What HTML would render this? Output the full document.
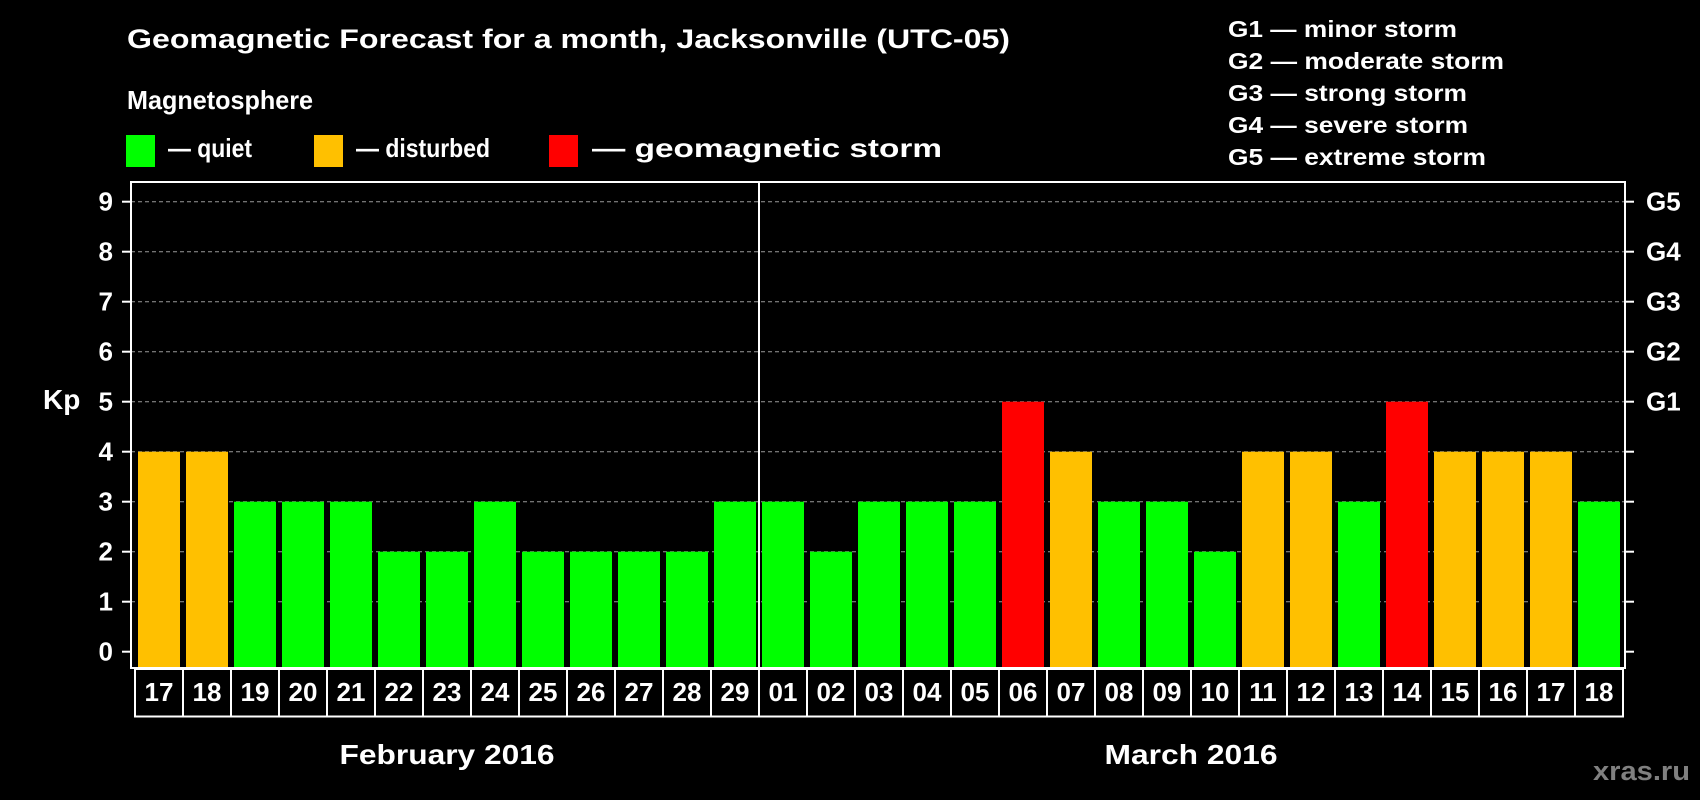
<!DOCTYPE html>
<html><head><meta charset="utf-8"><style>
html,body{margin:0;padding:0;background:#000;}
svg{display:block;font-family:"Liberation Sans",Arial,sans-serif;font-weight:bold;}
</style></head><body>
<svg id="chart" width="1700" height="800" viewBox="0 0 1700 800" xmlns="http://www.w3.org/2000/svg">
<rect x="0" y="0" width="1700" height="800" fill="#000"/>
<text x="127" y="48" fill="#fff" font-size="27" textLength="883" lengthAdjust="spacingAndGlyphs">Geomagnetic Forecast for a month, Jacksonville (UTC-05)</text>
<text x="127" y="109" fill="#fff" font-size="26" textLength="186" lengthAdjust="spacingAndGlyphs">Magnetosphere</text>
<g>
<rect x="126" y="135" width="29" height="32" fill="#00ff00"/>
<text x="168" y="157" fill="#fff" font-size="26" textLength="84" lengthAdjust="spacingAndGlyphs">— quiet</text></g>
<g>
<rect x="314" y="135" width="29" height="32" fill="#ffc000"/>
<text x="356" y="157" fill="#fff" font-size="26" textLength="134" lengthAdjust="spacingAndGlyphs">— disturbed</text></g>
<g>
<rect x="549" y="135" width="29" height="32" fill="#ff0000"/>
<text x="592" y="157" fill="#fff" font-size="26" textLength="350" lengthAdjust="spacingAndGlyphs">— geomagnetic storm</text></g>
<g fill="#fff" font-size="23">
<text x="1228" y="37" textLength="229" lengthAdjust="spacingAndGlyphs">G1 — minor storm</text>
<text x="1228" y="69" textLength="276" lengthAdjust="spacingAndGlyphs">G2 — moderate storm</text>
<text x="1228" y="101" textLength="239" lengthAdjust="spacingAndGlyphs">G3 — strong storm</text>
<text x="1228" y="133" textLength="240" lengthAdjust="spacingAndGlyphs">G4 — severe storm</text>
<text x="1228" y="165" textLength="258" lengthAdjust="spacingAndGlyphs">G5 — extreme storm</text>
</g>
<text x="43" y="409" fill="#fff" font-size="28">Kp</text>
<text x="447" y="764" fill="#fff" font-size="28" text-anchor="middle" textLength="215" lengthAdjust="spacingAndGlyphs">February 2016</text>
<text x="1191" y="764" fill="#fff" font-size="28" text-anchor="middle" textLength="173" lengthAdjust="spacingAndGlyphs">March 2016</text>
<text x="1593" y="780" fill="#808080" font-size="27" textLength="97" lengthAdjust="spacingAndGlyphs">xras.ru</text>
<g id="grid"></g><g id="bars"></g><g id="axes"></g><g id="dates"></g>
</svg>
<script>
const days = ["17","18","19","20","21","22","23","24","25","26","27","28","29","01","02","03","04","05","06","07","08","09","10","11","12","13","14","15","16","17","18"];
const kpValues = [4,4,3,3,3,2,2,3,2,2,2,2,3,3,2,3,3,3,5,4,3,3,2,4,4,3,5,4,4,4,3];
const yTicks = [0,1,2,3,4,5,6,7,8,9];
const gLabels = ["G1","G2","G3","G4","G5"];
const gLevels = [5,6,7,8,9];
const monthSplitIndex = 13;

const NS = "http://www.w3.org/2000/svg";
const L = 131, R = 1625, T = 182, B = 668;
const slot = 48, x0 = 135;
const y = v => 651.7 - v * 50;
const xs = i => x0 + i * slot;
function mk(tag, attrs, parent) {
  const e = document.createElementNS(NS, tag);
  for (const k in attrs) e.setAttribute(k, attrs[k]);
  parent.appendChild(e);
  return e;
}
const grid = document.getElementById('grid'), bars = document.getElementById('bars'), axes = document.getElementById('axes'), dates = document.getElementById('dates');
function color(v) { return v >= 5 ? "#ff0000" : (v >= 4 ? "#ffc000" : "#00ff00"); }

yTicks.forEach(t => {
  if (t > 0) {
    const g = mk('line', {x1: L, x2: R, y1: y(t), y2: y(t), stroke: "#999", "stroke-width": 1, "stroke-dasharray": "4,3"}, grid);
    
    
  }
  const tl = mk('line', {x1: L - 9, x2: L, y1: y(t), y2: y(t), stroke: "#fff", "stroke-width": 2}, axes);
  
  
  const tr = mk('line', {x1: R, x2: R + 9, y1: y(t), y2: y(t), stroke: "#fff", "stroke-width": 2}, axes);
  
  
  const lb = mk('text', {x: 113, y: y(t) + 9, fill: "#fff", "font-size": 26, "text-anchor": "end"}, axes);
  lb.textContent = t;
  
  
});
gLabels.forEach((g, i) => {
  const t = mk('text', {x: 1646, y: y(gLevels[i]) + 9, fill: "#fff", "font-size": 26}, axes);
  t.textContent = g;
  
  
});
kpValues.forEach((v, i) => {
  const b = mk('rect', {x: xs(i) + 3, y: y(v), width: 42, height: y(0) + 16.3 - y(v), fill: color(v)}, bars);
  
  
});
const frame = mk('rect', {x: L, y: T, width: R - L, height: B - T, fill: "none", stroke: "#fff", "stroke-width": 2}, axes);


const div = mk('line', {x1: xs(monthSplitIndex) - 0.5 + 0.5 - 3 + 3, x2: xs(monthSplitIndex), y1: T, y2: B, stroke: "#fff", "stroke-width": 2}, axes);
div.setAttribute('x1', xs(monthSplitIndex) - 11 + 11 - 0 + 0 + (-7) + 7 - 0 + 0 - 0 + 0 + 0 - 3 + 3 + 0 - 0 + 0 + 0 - 11 + 11);
div.setAttribute('x1', xs(monthSplitIndex) - 11 + 11);
div.setAttribute('x2', xs(monthSplitIndex) - 11 + 11);


days.forEach((d, i) => {
  const c = mk('rect', {x: xs(i), y: 669, width: slot, height: 47.5, fill: "#000", stroke: "#fff", "stroke-width": 2}, dates);
  
  
  const t = mk('text', {x: xs(i) + slot / 2, y: 701, fill: "#fff", "font-size": 26, "text-anchor": "middle"}, dates);
  t.textContent = d;
  
  
});
</script>
</body></html>
